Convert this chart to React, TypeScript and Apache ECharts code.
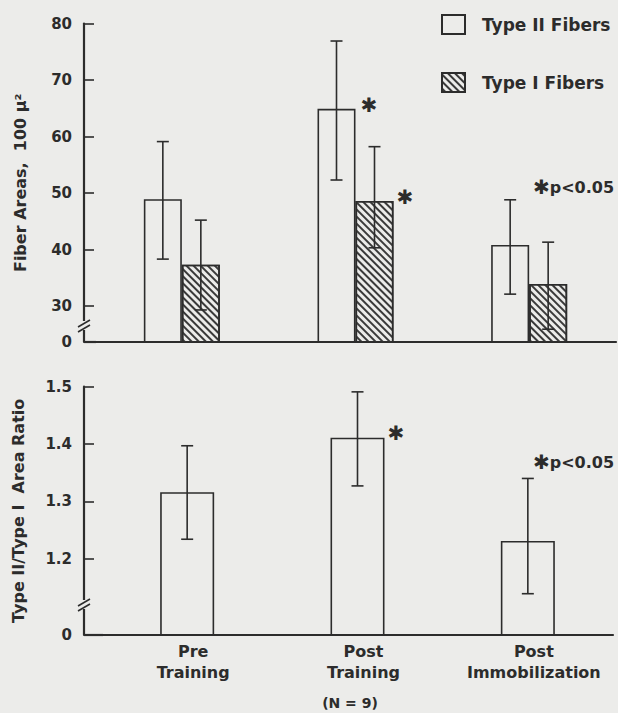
import React, { useEffect, useRef } from 'react';
import * as echarts from 'echarts';

const categories = ['Pre\nTraining', 'Post\nTraining', 'Post\nImmobilization'];
const seriesNames = ['Type II Fibers', 'Type I Fibers'];

// Top panel: fiber areas (100 µ²)
const typeIIArea = [48.9, 64.9, 40.8];
const typeIIAreaLow = [38.3, 52.3, 32.1];
const typeIIAreaHigh = [59.1, 76.9, 48.8];
const typeIArea = [37.3, 48.6, 33.9];
const typeIAreaLow = [29.3, 40.3, 25.9];
const typeIAreaHigh = [45.2, 58.2, 41.3];
const typeIISignificant = [false, true, false];
const typeISignificant = [false, true, false];
const areaTicks = [30, 40, 50, 60, 70, 80];
const areaAxisBreakBase = 23.63; // broken axis: shown as "0"

// Bottom panel: Type II / Type I area ratio
const ratio = [1.316, 1.411, 1.231];
const ratioLow = [1.234, 1.327, 1.139];
const ratioHigh = [1.397, 1.491, 1.34];
const ratioSignificant = [false, true, false];
const ratioTicks = [1.2, 1.3, 1.4, 1.5];
const ratioAxisBreakBase = 1.067; // broken axis: shown as "0"

const INK = '#2c2c2c';
const BG = '#ececea';
const FONT = 'DejaVu Sans';

const textBase = { fontFamily: FONT, fontWeight: 'bold' as const, color: INK };

function errorSeries(xi: number, yi: number, lows: number[], highs: number[], dx: number) {
  return {
    type: 'custom',
    xAxisIndex: xi,
    yAxisIndex: yi,
    silent: true,
    z: 5,
    data: lows.map((lo, i) => [i, lo, highs[i]]),
    encode: { x: 0, y: [1, 2] },
    renderItem: (_params: any, api: any) => {
      const i = api.value(0);
      const lo = api.coord([i, api.value(1)]);
      const hi = api.coord([i, api.value(2)]);
      const x = lo[0] + dx;
      const cap = 6;
      const style = { stroke: INK, lineWidth: 1.6 };
      return {
        type: 'group',
        children: [
          { type: 'line', shape: { x1: x, y1: lo[1], x2: x, y2: hi[1] }, style },
          { type: 'line', shape: { x1: x - cap, y1: hi[1], x2: x + cap, y2: hi[1] }, style },
          { type: 'line', shape: { x1: x - cap, y1: lo[1], x2: x + cap, y2: lo[1] }, style },
        ],
      };
    },
  };
}

const starLabel = {
  formatter: '\u2731',
  position: ['100%', 0],
  align: 'left',
  verticalAlign: 'middle',
  fontFamily: FONT,
  fontSize: 20,
  color: INK,
};

function withStars(values: number[], flags: boolean[], offset: number[]) {
  return values.map((v, i) => ({ value: v, label: { show: flags[i], offset } }));
}

const pNote = (y: number) => ({
  type: 'text',
  z: 20,
  style: {
    x: 533,
    y,
    text: '{a|\u2731}{b|p<0.05}',
    verticalAlign: 'middle',
    rich: {
      a: { fontFamily: FONT, fontSize: 20, fill: INK },
      b: { fontFamily: FONT, fontWeight: 'bold', fontSize: 16, fill: INK },
    },
  },
});

const option: any = {
  animation: false,
  backgroundColor: BG,
  legend: {
    data: seriesNames,
    orient: 'vertical',
    icon: 'rect',
    left: 441,
    top: 14,
    padding: 0,
    itemWidth: 23,
    itemHeight: 19,
    itemGap: 37,
    itemStyle: { borderWidth: 2 },
    textStyle: { ...textBase, fontSize: 17, padding: [0, 0, 0, 12] },
  },
  grid: [
    { left: 95, right: 2, top: 23.5, bottom: 371 },
    { left: 102, right: 5, top: 386.7, bottom: 78 },
  ],
  xAxis: [
    {
      type: 'category',
      gridIndex: 0,
      data: categories,
      axisLine: { lineStyle: { color: INK, width: 2.2 } },
      axisTick: { show: false },
      axisLabel: { show: false },
      splitLine: { show: false },
    },
    {
      type: 'category',
      gridIndex: 1,
      data: categories,
      axisLine: { lineStyle: { color: INK, width: 2.2 } },
      axisTick: { show: false },
      axisLabel: { ...textBase, interval: 0, fontSize: 16, lineHeight: 21, margin: 6, padding: [0, 0, 0, 12] },
      splitLine: { show: false },
    },
  ],
  yAxis: [
    {
      type: 'value',
      gridIndex: 0,
      min: areaAxisBreakBase,
      max: 80,
      offset: 11,
      name: 'Fiber Areas,  100 \u03bc\u00b2',
      nameLocation: 'middle',
      nameGap: 56,
      nameTextStyle: { ...textBase, fontSize: 16 },
      axisLine: { show: true, lineStyle: { color: INK, width: 2.2 } },
      axisTick: { show: true, inside: true, length: 10, customValues: areaTicks, lineStyle: { color: INK, width: 1.6 } },
      axisLabel: {
        ...textBase,
        fontSize: 15,
        margin: 12,
        customValues: [areaAxisBreakBase, ...areaTicks],
        formatter: (v: number) => (v < areaTicks[0] ? '0' : String(v)),
      },
      splitLine: { show: false },
    },
    {
      type: 'value',
      gridIndex: 1,
      min: ratioAxisBreakBase,
      max: 1.5,
      offset: 18,
      name: 'Type II/Type I  Area Ratio',
      nameLocation: 'middle',
      nameGap: 58,
      nameTextStyle: { ...textBase, fontSize: 16 },
      axisLine: { show: true, lineStyle: { color: INK, width: 2.2 } },
      axisTick: { show: true, inside: true, length: 10, customValues: ratioTicks, lineStyle: { color: INK, width: 1.6 } },
      axisLabel: {
        ...textBase,
        fontSize: 15,
        margin: 12,
        customValues: [ratioAxisBreakBase, ...ratioTicks],
        formatter: (v: number) => (v < ratioTicks[0] ? '0' : v.toFixed(1)),
      },
      splitLine: { show: false },
    },
  ],
  series: [
    {
      name: seriesNames[0],
      type: 'bar',
      xAxisIndex: 0,
      yAxisIndex: 0,
      barWidth: 38,
      barGap: '0%',
      clip: true,
      itemStyle: { color: 'rgba(0,0,0,0)', borderColor: INK, borderWidth: 1.6 },
      label: starLabel,
      data: withStars(typeIIArea, typeIISignificant, [5, -4]),
    },
    {
      name: seriesNames[1],
      type: 'bar',
      xAxisIndex: 0,
      yAxisIndex: 0,
      barWidth: 38,
      clip: true,
      itemStyle: {
        color: 'rgba(0,0,0,0)',
        borderColor: INK,
        borderWidth: 1.6,
        decal: {
          symbol: 'rect',
          symbolSize: 1,
          dashArrayX: [1, 0],
          dashArrayY: [2, 2.6],
          rotation: Math.PI / 4,
          color: '#3a3a3a',
        },
      },
      label: starLabel,
      data: withStars(typeIArea, typeISignificant, [3, -4]),
    },
    errorSeries(0, 0, typeIIAreaLow, typeIIAreaHigh, -19),
    errorSeries(0, 0, typeIAreaLow, typeIAreaHigh, 19),
    {
      name: 'Ratio',
      type: 'bar',
      xAxisIndex: 1,
      yAxisIndex: 1,
      barWidth: 54,
      clip: true,
      itemStyle: { color: 'rgba(0,0,0,0)', borderColor: INK, borderWidth: 1.6 },
      label: starLabel,
      data: withStars(ratio, ratioSignificant, [3, -5]),
    },
    errorSeries(1, 1, ratioLow, ratioHigh, 0),
  ],
  graphic: [
    // x axis lines continue left to the offset y axes
    { type: 'line', z: 10, shape: { x1: 84, y1: 342, x2: 96, y2: 342 }, style: { stroke: INK, lineWidth: 2.2 } },
    { type: 'line', z: 10, shape: { x1: 84, y1: 635, x2: 103, y2: 635 }, style: { stroke: INK, lineWidth: 2.2 } },
    // axis breaks
    { type: 'rect', z: 20, shape: { x: 80, y: 321, width: 8, height: 9 }, style: { fill: BG } },
    { type: 'line', z: 21, shape: { x1: 78, y1: 327, x2: 90, y2: 320 }, style: { stroke: INK, lineWidth: 1.6 } },
    { type: 'line', z: 21, shape: { x1: 78, y1: 332, x2: 90, y2: 325 }, style: { stroke: INK, lineWidth: 1.6 } },
    { type: 'rect', z: 20, shape: { x: 80, y: 600, width: 8, height: 9 }, style: { fill: BG } },
    { type: 'line', z: 21, shape: { x1: 78, y1: 606, x2: 90, y2: 599 }, style: { stroke: INK, lineWidth: 1.6 } },
    { type: 'line', z: 21, shape: { x1: 78, y1: 611, x2: 90, y2: 604 }, style: { stroke: INK, lineWidth: 1.6 } },
    pNote(187),
    pNote(462),
    {
      type: 'text',
      z: 20,
      style: {
        x: 350,
        y: 703,
        text: '(N = 9)',
        align: 'center',
        verticalAlign: 'middle',
        fontFamily: FONT,
        fontWeight: 'bold',
        fontSize: 14,
        fill: INK,
      },
    },
  ],
};

export default function App() {
  const ref = useRef<HTMLDivElement>(null);
  useEffect(() => {
    document.body.style.margin = '0';
    const chart = echarts.init(ref.current as HTMLDivElement, null, { renderer: 'svg' });
    chart.setOption(option);
    return () => chart.dispose();
  }, []);
  return <div ref={ref} style={{ width: 618, height: 713 }} />;
}
